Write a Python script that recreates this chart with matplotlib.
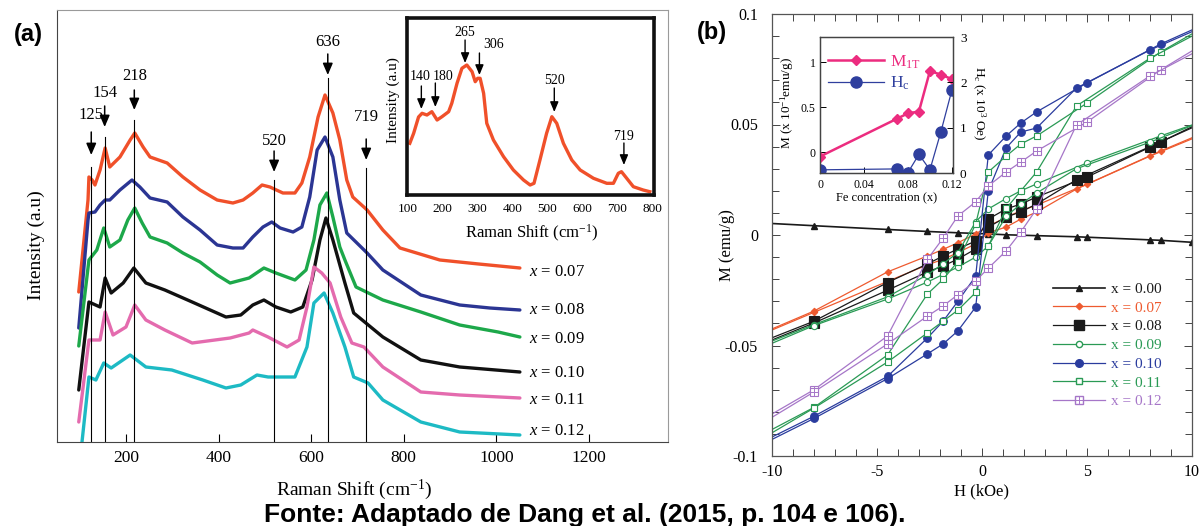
import matplotlib
matplotlib.use("Agg")
import matplotlib.pyplot as plt
from matplotlib.lines import Line2D
from matplotlib.ticker import MultipleLocator

plt.rcParams["font.family"] = "Liberation Serif"
plt.rcParams["mathtext.fontset"] = "custom"
plt.rcParams["mathtext.rm"] = "Liberation Serif"
plt.rcParams["mathtext.it"] = "Liberation Serif:italic"
plt.rcParams["axes.unicode_minus"] = False

# ---------------- Raman spectra (panel a), offset stack, a.u. ----------------
raman_x_007 = [98, 118, 120, 127, 133, 144, 155, 165, 187, 209, 219, 237, 252, 289, 323, 360, 397,
               431, 453, 474, 494, 511, 539, 565, 580, 597, 615, 630, 647, 662, 677, 690, 721, 755,
               792, 878, 962, 1051]
raman_y_007 = [150, 242, 265, 262, 257, 272, 294, 275, 285, 302, 309, 295, 285, 279, 265, 252, 242,
               239, 242, 249, 257, 255, 249, 249, 259, 285, 325, 347, 329, 302, 262, 245, 232, 212,
               194, 182, 178, 174]

raman_x_008 = [98, 118, 120, 133, 144, 155, 165, 187, 213, 230, 252, 289, 323, 360, 397, 431, 453,
               474, 496, 515, 533, 561, 580, 597, 613, 630, 647, 662, 677, 699, 721, 755, 837, 921,
               986, 1051]
raman_y_008 = [114, 222, 229, 230, 237, 242, 242, 252, 262, 255, 244, 240, 225, 212, 197, 194, 194,
               205, 215, 220, 214, 210, 215, 245, 292, 305, 285, 242, 209, 199, 189, 172, 147, 137,
               134, 132]

raman_x_009 = [98, 120, 137, 152, 165, 187, 204, 219, 235, 252, 289, 323, 360, 397, 425, 466, 498,
               524, 565, 589, 606, 619, 634, 647, 662, 673, 697, 755, 837, 921, 1004, 1051]
raman_y_009 = [96, 182, 192, 214, 195, 202, 222, 234, 219, 205, 199, 189, 180, 167, 159, 164, 174,
               169, 162, 172, 202, 237, 249, 225, 195, 182, 155, 142, 130, 117, 110, 105]

raman_x_010 = [98, 120, 144, 155, 168, 194, 217, 243, 284, 343, 416, 448, 474, 498, 524, 556, 582,
               602, 619, 632, 647, 673, 692, 755, 837, 921, 1051]
raman_y_010 = [52, 140, 135, 164, 149, 159, 174, 159, 152, 140, 125, 127, 137, 142, 135, 130, 135,
               162, 202, 224, 202, 159, 129, 105, 82, 75, 70]

raman_x_011 = [98, 120, 144, 155, 172, 200, 219, 243, 284, 343, 425, 466, 474, 507, 548, 574, 591,
               606, 623, 641, 664, 688, 714, 755, 837, 921, 1051]
raman_y_011 = [20, 102, 102, 130, 107, 115, 137, 122, 112, 99, 104, 109, 112, 105, 95, 102, 135,
               175, 169, 159, 125, 99, 95, 75, 50, 47, 44]

raman_x_012 = [105, 120, 135, 152, 168, 209, 243, 299, 366, 416, 448, 483, 507, 565, 591, 606, 628,
               647, 673, 692, 723, 755, 837, 921, 1051]
raman_y_012 = [0, 65, 62, 79, 74, 87, 75, 72, 62, 54, 57, 67, 65, 65, 95, 139, 149, 129, 95, 65,
               59, 42, 20, 10, 7]

raman_series = [
    ("0.07", raman_x_007, raman_y_007, "#F0502A"),
    ("0.08", raman_x_008, raman_y_008, "#2B3593"),
    ("0.09", raman_x_009, raman_y_009, "#1DA84A"),
    ("0.10", raman_x_010, raman_y_010, "#111111"),
    ("0.11", raman_x_011, raman_y_011, "#E46BAE"),
    ("0.12", raman_x_012, raman_y_012, "#1DBAC4"),
]
label_y = [170, 132, 103, 69, 42, 11]

peaks = [125, 154, 218, 520, 636, 719]
# (line top, arrow tail, arrow tip, label y) in the a.u. scale
peak_layout = [(275, 310, 287, 327), (305, 336, 315, 349), (322, 352, 332, 366),
               (262, 291, 270, 301), (364, 388, 367, 400), (274, 303, 282, 325)]

# single spectrum in the inset
inset_x = [107, 118, 132, 142, 156, 170, 185, 199, 218, 227, 242, 256, 270, 285, 294, 301, 308,
           318, 327, 346, 375, 403, 432, 451, 462, 479, 498, 513, 527, 546, 570, 594, 632, 670,
           689, 703, 712, 727, 746, 774, 793]
inset_y = [51.7, 61.7, 78, 81.7, 80, 83.3, 75, 78.3, 83.3, 91.7, 111.7, 126.7, 130, 123.3, 113.3,
           116.7, 116.7, 101.7, 71.7, 55, 38.3, 25, 15, 10, 11.7, 35, 61.7, 78.3, 71.7, 51.7, 35,
           25, 16.7, 11.7, 11.7, 21.7, 23.3, 16.7, 8.3, 5, 3.3]
inset_peaks = [140, 180, 265, 306, 520, 719]
# (arrow tail, arrow tip, label y, label x, alignment)
inset_layout = [(109, 86, 118, 136, "center"), (112, 88, 119, 173, "left"),
                (155, 132, 163, 265, "center"), (142, 120, 150, 316, "left"),
                (107, 83, 115, 520, "center"), (52, 30, 59, 719, "center")]

# ---------------- magnetisation loops (panel b) ----------------
h_desc = [10, 8.5, 5, 2.6, 1.85, 1.15, 0.3, -0.3, -1.15, -1.85, -2.6, -4.5, -8, -10]
h_asc = [-10, -8, -4.5, -2.6, -1.85, -1.15, -0.3, 0.3, 1.15, 1.85, 2.6, 4.5, 8, 10]

h_000 = [-10, -8, -4.5, -2.6, -1.15, 0.3, 1.15, 2.6, 4.5, 5, 8, 8.5, 10]
m_000 = [0.0052, 0.0042, 0.0025, 0.0016, 0.0010, 0.0005, 0.0001, -0.0003, -0.0008, -0.0010,
         -0.0022, -0.0024, -0.0033]

m_desc_007 = [0.0440, 0.0380, 0.0230, 0.0135, 0.0110, 0.0080, 0.0040, 0.0005, -0.0035, -0.0065,
              -0.0095, -0.0167, -0.0344, -0.0425]
m_asc_007 = [-0.0430, -0.0350, -0.0210, -0.0135, -0.0110, -0.0080, -0.0040, 0.0010, 0.0036,
             0.0072, 0.0104, 0.0208, 0.0357, 0.0435]
m_desc_008 = [0.0490, 0.0420, 0.0262, 0.0172, 0.0140, 0.0118, 0.0072, -0.0027, -0.0063, -0.0095,
              -0.0131, -0.0215, -0.0390, -0.0465]
m_asc_008 = [-0.0475, -0.0398, -0.0250, -0.0167, -0.0140, -0.0109, -0.0063, 0.0036, 0.0081,
             0.0105, 0.0140, 0.0250, 0.0400, 0.0485]
m_desc_009 = [0.0498, 0.0448, 0.0326, 0.0231, 0.0200, 0.0165, 0.0118, 0.0060, -0.0080, -0.0130,
              -0.0180, -0.0280, -0.0405, -0.0480]
m_asc_009 = [-0.0490, -0.0410, -0.0290, -0.0213, -0.0178, -0.0145, -0.0100, -0.0050, 0.0085,
             0.0140, 0.0190, 0.0300, 0.0420, 0.0495]
m_desc_010 = [0.0928, 0.0864, 0.0688, 0.0557, 0.0507, 0.0448, 0.0362, -0.0186, -0.0300, -0.0390,
              -0.0466, -0.0640, -0.0820, -0.0914]
m_asc_010 = [-0.0925, -0.0830, -0.0650, -0.0538, -0.0493, -0.0434, -0.0326, 0.0200, 0.0394,
             0.0466, 0.0484, 0.0665, 0.0837, 0.0920]
m_desc_011 = [0.0910, 0.0828, 0.0597, 0.0448, 0.0412, 0.0357, 0.0285, 0.0050, -0.0120, -0.0200,
              -0.0267, -0.0543, -0.0780, -0.0880]
m_asc_011 = [-0.0895, -0.0783, -0.0575, -0.0443, -0.0390, -0.0340, -0.0260, -0.0050, 0.0120,
             0.0200, 0.0285, 0.0584, 0.0800, 0.0900]
m_desc_012 = [0.0833, 0.0747, 0.0511, 0.0380, 0.0330, 0.0285, 0.0222, 0.0150, 0.0086, -0.0014,
              -0.0110, -0.0457, -0.0700, -0.0810]
m_asc_012 = [-0.0825, -0.0710, -0.0493, -0.0367, -0.0321, -0.0270, -0.0208, -0.0150, -0.0072,
             0.0014, 0.0118, 0.0498, 0.0720, 0.0820]

# inset: moment at 1 T and coercive field vs Fe content
fe_conc = [0, 0.07, 0.08, 0.09, 0.10, 0.11, 0.12]
m_1t = [-0.05, 0.37, 0.43, 0.45, 0.90, 0.86, 0.81]
h_c = [0.07, 0.09, 0.01, 0.41, 0.07, 0.91, 1.83]

c_or, c_bk, c_gr, c_bl, c_pu = "#EE5A2F", "#1A1A1A", "#2A9A55", "#2A3C9E", "#A676C8"
c_pink, c_hc = "#EC2C7F", "#2F3F9E"

W, H = 1201, 526
fig = plt.figure(figsize=(W / 100, H / 100), dpi=100)


def frac(left, top, right, bottom):
    return [left / W, 1 - bottom / H, (right - left) / W, (bottom - top) / H]


# ---------- panel (a) ----------
ax = fig.add_axes(frac(57, 10, 668, 442))
for name, xs, ys, col in raman_series:
    ax.plot(xs, ys, color=col, lw=2.4, solid_joinstyle="round", solid_capstyle="round")
for (name, xs, ys, col), ly in zip(raman_series, label_y):
    ax.text(1070, ly, r"$x$ = " + name, fontsize=12, va="center", ha="left")

for p, (top, tail, tip, ly) in zip(peaks, peak_layout):
    ax.plot([p, p], [0, top], color="k", lw=0.8)
    ax.annotate("", xy=(p, tip), xytext=(p, tail),
                arrowprops=dict(arrowstyle="-|>,head_length=0.7,head_width=0.3",
                                color="k", lw=1.1, shrinkA=0, shrinkB=0))
    ax.text(p, ly, str(p), ha="center", va="center", fontsize=12)

ax.set_xlim(51, 1371)
ax.set_ylim(0, 432)
ax.set_xticks([200, 400, 600, 800, 1000, 1200])
ax.set_yticks([])
ax.tick_params(axis="x", direction="in", length=6, width=0.8, labelsize=12.5, pad=6)
for s in ["left", "bottom"]:
    ax.spines[s].set_color("#444444")
for s in ["top", "right"]:
    ax.spines[s].set_color("#9a9a9a")
ax.set_xlabel("Raman Shift (cm$^{-1}$)", fontsize=14)
ax.xaxis.set_label_coords(0.486, -0.082)
ax.set_ylabel("Intensity (a.u)", fontsize=14)
ax.yaxis.set_label_coords(-0.02, 0.456)

axi = fig.add_axes(frac(407, 18, 654, 195))
axi.plot(inset_x, inset_y, color="#F0502A", lw=2.4, solid_joinstyle="round")
for p, (tail, tip, ly, lx, ha) in zip(inset_peaks, inset_layout):
    axi.annotate("", xy=(p, tip), xytext=(p, tail),
                 arrowprops=dict(arrowstyle="-|>,head_length=0.6,head_width=0.25",
                                 color="k", lw=1.0, shrinkA=0, shrinkB=0))
    axi.text(lx, ly, str(p), ha=ha, va="center", fontsize=10)
axi.set_xlim(99, 805)
axi.set_ylim(0, 177)
axi.set_xticks(range(100, 801, 100))
axi.set_yticks([])
axi.tick_params(axis="x", length=0, labelsize=9.5, pad=6)
for s in axi.spines.values():
    s.set_linewidth(2.6)
    s.set_color("#111111")
axi.set_xlabel("Raman Shift (cm$^{-1}$)", fontsize=12)
axi.xaxis.set_label_coords(0.506, -0.158)
axi.set_ylabel("Intensity (a.u)", fontsize=11)
axi.yaxis.set_label_coords(-0.028, 0.537)

# ---------- panel (b) ----------
bx = fig.add_axes(frac(772, 14, 1192, 456))


def loop(m_desc, m_asc, col, marker, ms, mfc, extra=None):
    for hh, mm in ((h_desc, m_desc), (h_asc, m_asc)):
        bx.plot(hh, mm, color=col, lw=0.9, marker=marker, ms=ms, mfc=mfc, mec=col,
                mew=0.8, markevery=slice(1, -1))
        if extra:
            bx.plot(hh[1:-1], mm[1:-1], ls="none", marker=extra, ms=ms, mec=col, mew=0.7)


bx.plot(h_000, m_000, color=c_bk, lw=1.2, marker="^", ms=4.5, markevery=slice(1, None))
loop(m_desc_007, m_asc_007, c_or, "D", 3.3, c_or)
loop(m_desc_008, m_asc_008, c_bk, "s", 6.5, c_bk)
loop(m_desc_009, m_asc_009, c_gr, "o", 4.5, "white")
loop(m_desc_010, m_asc_010, c_bl, "o", 5.5, c_bl)
loop(m_desc_011, m_asc_011, c_gr, "s", 5, "white")
loop(m_desc_012, m_asc_012, c_pu, "s", 5.5, "white", extra="+")

handles = [
    Line2D([], [], color=c_bk, lw=1.2, marker="^", ms=4.5),
    Line2D([], [], color=c_or, lw=0.9, marker="D", ms=3.3),
    Line2D([], [], color=c_bk, lw=0.9, marker="s", ms=6.5),
    Line2D([], [], color=c_gr, lw=0.9, marker="o", ms=4.5, mfc="white"),
    Line2D([], [], color=c_bl, lw=0.9, marker="o", ms=5.5),
    Line2D([], [], color=c_gr, lw=0.9, marker="s", ms=5, mfc="white"),
    (Line2D([], [], color=c_pu, lw=0.9, marker="s", ms=5.5, mfc="white"),
     Line2D([], [], ls="none", color=c_pu, marker="+", ms=5.5, mew=0.7)),
]
labels = ["x = 0.00", "x = 0.07", "x = 0.08", "x = 0.09", "x = 0.10", "x = 0.11", "x = 0.12"]
leg = bx.legend(handles, labels, loc="upper left", bbox_to_anchor=(0.67, 0.393), frameon=False,
                fontsize=11, handlelength=3.4, handletextpad=0.4, labelspacing=0.33,
                borderpad=0, borderaxespad=0)
for t, c in zip(leg.get_texts(), [c_bk, c_or, c_bk, c_gr, c_bl, c_gr, c_pu]):
    t.set_color(c)

bx.set_xlim(-10, 10)
bx.set_ylim(-0.1, 0.1)
bx.set_xticks([-10, -5, 0, 5, 10])
bx.set_yticks([-0.1, -0.05, 0, 0.05, 0.1])
bx.set_yticklabels(["-0.1", "-0.05", "0", "0.05", "0.1"])
bx.xaxis.set_minor_locator(MultipleLocator(1))
bx.yaxis.set_minor_locator(MultipleLocator(0.01))
bx.tick_params(which="both", direction="in", top=True, right=True, width=0.7,
               labelsize=11.5, color="#444444")
bx.tick_params(which="major", length=6)
bx.tick_params(which="minor", length=5)
bx.tick_params(axis="y", pad=10)
bx.tick_params(axis="x", pad=6)
for s in bx.spines.values():
    s.set_color("#555555")
    s.set_linewidth(0.9)
bx.set_xlabel("H (kOe)", fontsize=12)
bx.xaxis.set_label_coords(0.5, -0.061)
bx.set_ylabel("M (emu/g)", fontsize=12)
bx.yaxis.set_label_coords(-0.088, 0.477)

ib = fig.add_axes(frac(820, 37, 953, 173))
ibr = ib.twinx()
ib.plot(fe_conc, m_1t, color=c_pink, lw=1.8, marker="D", ms=5.5, zorder=3)
ibr.plot(fe_conc, h_c, color=c_hc, lw=0.9, marker="o", ms=8)
ib.set_xlim(0, 0.121)
ib.set_ylim(-0.233, 1.278)
ibr.set_ylim(0, 3)
ib.set_xticks([0, 0.04, 0.08, 0.12])
ib.set_xticklabels(["0", "0.04", "0.08", "0.12"])
ib.set_yticks([0, 0.5, 1])
ib.set_yticklabels(["0", "0.5", "1"])
ibr.set_yticks([0, 1, 2, 3])
ib.tick_params(direction="in", labelsize=8.5, length=4, width=0.7, pad=3)
ib.tick_params(axis="x", pad=4)
ibr.tick_params(direction="in", labelsize=9.5, length=4, width=0.7, pad=5)
for a in (ib, ibr):
    for s in a.spines.values():
        s.set_color("#444444")
        s.set_linewidth(0.9)
ib.set_xlabel("Fe concentration (x)", fontsize=9)
ib.xaxis.set_label_coords(0.5, -0.14)
ib.set_ylabel(r"M (x 10$^{-1}$emu/g)", fontsize=9.5)
ib.yaxis.set_label_coords(-0.18, 0.515)
ibr.set_ylabel(r"H$_\mathrm{c}$ (x 10$^3$ Oe)", fontsize=9.5, rotation=270, va="center")
ibr.yaxis.set_label_coords(1.19, 0.515)
ileg = ib.legend([Line2D([], [], color=c_pink, lw=1.8, marker="D", ms=5.5),
                  Line2D([], [], color=c_hc, lw=0.9, marker="o", ms=8)],
                 [r"M$_\mathrm{1T}$", r"H$_\mathrm{c}$"], loc="upper left",
                 bbox_to_anchor=(0.06, 0.88), frameon=False, fontsize=12.5, handlelength=3.2,
                 handletextpad=0.4, labelspacing=0.25, borderpad=0, borderaxespad=0)
for t, c in zip(ileg.get_texts(), [c_pink, c_hc]):
    t.set_color(c)

fig.text(28 / W, 1 - 35 / H, "(a)", fontfamily="Liberation Sans", fontweight="bold",
         fontsize=17, ha="center", va="center")
fig.text(712 / W, 1 - 33 / H, "(b)", fontfamily="Liberation Sans", fontweight="bold",
         fontsize=17, ha="center", va="center")
fig.text(585 / W, 1 - 515 / H, "Fonte: Adaptado de Dang et al. (2015, p. 104 e 106).",
         fontfamily="Liberation Sans", fontweight="bold", fontsize=19, ha="center",
         va="center")

fig.savefig("out.png", dpi=100)
